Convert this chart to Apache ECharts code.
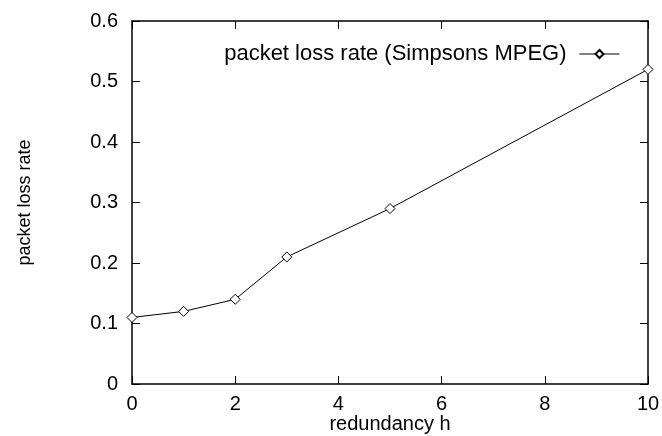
<!DOCTYPE html>
<html><head><meta charset="utf-8">
<script src="https://cdn.jsdelivr.net/npm/echarts@6/dist/echarts.min.js"></script>
<style>html,body{margin:0;padding:0;background:#fff}#c{width:662px;height:436px}</style>
</head><body><div id="c"></div>
<script>
var xValues = [0, 1, 2, 3, 5, 10];
var lossRate = [0.11, 0.12, 0.14, 0.21, 0.29, 0.52];
var seriesName = 'packet loss rate (Simpsons MPEG)';
var xTicks = [0, 2, 4, 6, 8, 10];
var yTicks = [0, 0.1, 0.2, 0.3, 0.4, 0.5, 0.6];

var font = 'Liberation Sans, Arial, sans-serif';
var chart = echarts.init(document.getElementById('c'));
var lineCommon = {
  axisLine: {show: true, onZero: false, lineStyle: {color: '#000', width: 1.5}},
  axisTick: {show: true, inside: true, length: 8, lineStyle: {color: '#000', width: 1}},
  splitLine: {show: false}
};
chart.setOption({
  animation: false,
  grid: {left: 132, right: 14, top: 21, bottom: 52, containLabel: false, outerBoundsMode: 'none'},
  legend: {
    show: true, data: [seriesName], right: 37, top: 38, align: 'right',
    itemWidth: 40, itemHeight: 10, itemGap: 10,
    lineStyle: {width: 1, color: '#000'},
    textStyle: {color: '#000', fontFamily: font, fontSize: 22, padding: [0, 8, 0, 0]}
  },
  xAxis: [Object.assign({
    type: 'value', min: 0, max: 10, interval: 2,
    name: 'redundancy h', nameLocation: 'middle', nameGap: 30, nameMoveOverlap: false,
    nameTextStyle: {color: '#000', fontFamily: font, fontSize: 20},
    axisLabel: {color: '#000', fontFamily: font, fontSize: 20, margin: 10,
      formatter: function (v) { return xTicks.indexOf(v) >= 0 ? String(v) : ''; }}
  }, lineCommon),
  Object.assign({
    type: 'value', position: 'top', min: 0, max: 10, interval: 2,
    axisLabel: {show: false}
  }, lineCommon)],
  yAxis: [Object.assign({
    type: 'value', min: 0, max: 0.6, interval: 0.1,
    name: 'packet loss rate', nameLocation: 'middle', nameGap: 98, nameRotate: 90, nameMoveOverlap: false,
    nameTextStyle: {color: '#000', fontFamily: font, fontSize: 18},
    axisLabel: {color: '#000', fontFamily: font, fontSize: 20, margin: 14,
      formatter: function (v) { var r = Math.round(v * 10) / 10; return yTicks.indexOf(r) >= 0 ? (r === 0 ? '0' : String(r)) : ''; }}
  }, lineCommon),
  Object.assign({
    type: 'value', position: 'right', min: 0, max: 0.6, interval: 0.1,
    axisLabel: {show: false}
  }, lineCommon)],
  series: [{
    name: seriesName, type: 'line',
    data: xValues.map(function (x, i) { return [x, lossRate[i]]; }),
    symbol: 'diamond', symbolSize: 10, showAllSymbol: true,
    lineStyle: {color: '#000', width: 1},
    itemStyle: {color: '#fff', borderColor: '#000', borderWidth: 1},
    clip: false
  }]
});
</script></body></html>
